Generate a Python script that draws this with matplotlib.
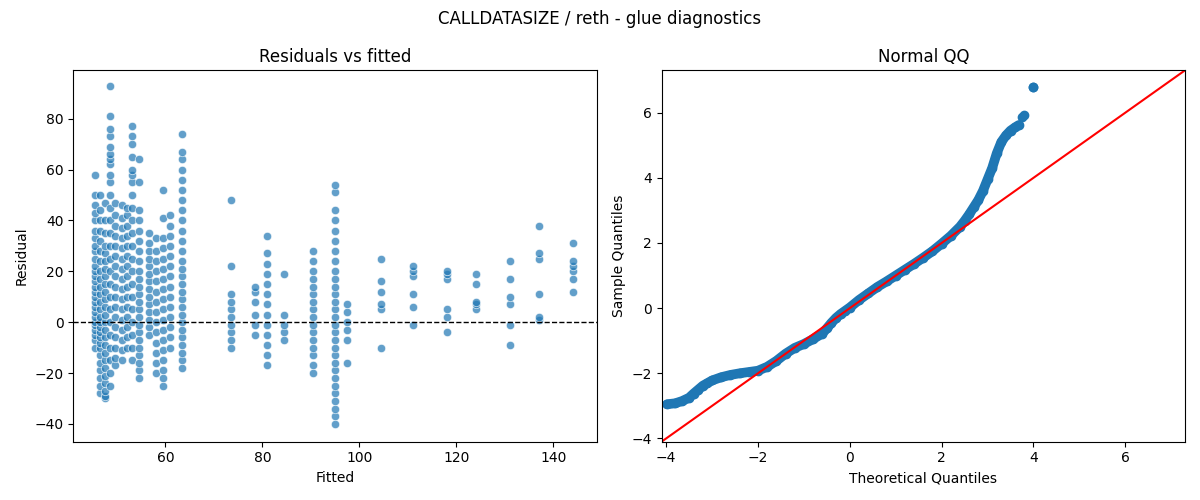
import matplotlib
matplotlib.use("Agg")
import matplotlib.pyplot as plt

# Residuals vs fitted: residuals grouped by fitted value
fitted_levels = [45.5, 46.5, 47.5, 48.5, 49.5, 51, 52, 53, 54.5, 56.5, 58, 59.5, 61, 63.5,
                 73.5, 78.5, 81, 84.5, 90.5, 95, 97.5, 104.5, 111, 118, 124, 131, 137, 144]
residual_groups = [
    [-10, -7, -5, -3, -1, 0, 2, 4, 6, 8, 10, 12, 14, 16, 18, 20, 22, 25, 28, 30, 33, 36, 40, 43, 46, 50, 58],
    [-28, -25, -22, -19, -16, -13, -10, -8, -6, -4, -2, 0, 2, 5, 8, 11, 14, 17, 20, 24, 28, 32, 36, 40, 44, 50],
    [-30, -29, -27, -24, -21, -18, -15, -12, -9, -6, -3, 0, 3, 6, 9, 12, 15, 18, 21, 24, 27, 30, 35, 40, 47],
    [-25, -20, -15, -10, -5, 0, 5, 10, 15, 20, 25, 30, 35, 40, 45, 50, 55, 58, 62, 64, 66, 69, 73, 76, 81, 93],
    [-17, -14, -10, -6, -2, 2, 6, 10, 14, 18, 22, 26, 30, 34, 38, 42, 47],
    [-15, -11, -7, -3, 1, 5, 9, 13, 17, 21, 25, 29, 33, 37, 41, 46],
    [-10, -6, -2, 2, 6, 10, 14, 18, 22, 26, 30, 34, 38, 42, 45],
    [-15, -10, -5, 0, 5, 10, 15, 20, 25, 30, 35, 40, 45, 50, 55, 58, 60, 65, 70, 73, 77],
    [-22, -19, -16, -13, -10, -7, -4, -1, 2, 5, 8, 11, 14, 17, 20, 24, 28, 32, 36, 40, 44, 55, 64],
    [-5, -2, 1, 4, 7, 10, 13, 16, 19, 22, 25, 28, 31, 35],
    [-20, -16, -12, -8, -4, 0, 4, 8, 12, 16, 20, 24, 28, 33],
    [-25, -22, -19, -15, -11, -7, -3, 1, 5, 9, 13, 17, 21, 25, 29, 33, 41, 52],
    [-10, -6, -2, 2, 6, 10, 14, 18, 22, 26, 30, 34, 38, 42],
    [-18, -15, -12, -9, -6, -3, 0, 3, 6, 9, 12, 15, 18, 21, 24, 28, 32, 36, 40, 44, 48, 52, 56, 60, 64, 67, 74],
    [-10, -7, -4, -1, 2, 5, 8, 11, 22, 48],
    [-5, -1, 3, 8, 12, 14],
    [-17, -13, -9, -5, -1, 3, 7, 11, 15, 19, 23, 27, 34],
    [-7, -4, -1, 3, 19],
    [-20, -17, -13, -10, -7, -4, -1, 2, 5, 8, 11, 14, 17, 20, 24, 28],
    [-40, -37, -34, -31, -28, -25, -22, -19, -16, -13, -10, -7, -4, -1, 2, 5, 8, 11, 14, 17, 20, 24, 28, 32, 36, 40, 44, 51, 54],
    [-16, -7, -3, 0, 4, 7],
    [-10, 5, 7, 12, 16, 25],
    [-1, 6, 11, 18, 20, 22],
    [-4, 2, 5, 17, 19, 20],
    [5, 7, 8, 15, 19],
    [-9, -1, 7, 10, 17, 24],
    [1, 2, 11, 25, 27, 38],
    [12, 17, 20, 22, 24, 31],
]

# Normal QQ (continuous body) and the isolated top points
theoretical_q = [-3.98, -3.8, -3.65, -3.5, -3.4, -3.3, -3.2, -3.1, -3.0, -2.8, -2.6, -2.4, -2.2, -2.0,
                 -1.8, -1.6, -1.4, -1.2, -1.0, -0.8, -0.6, -0.5, -0.4, -0.3, -0.2, -0.1, 0.0, 0.2,
                 0.4, 0.6, 0.8, 1.0, 1.2, 1.4, 1.6, 1.8, 2.0, 2.2, 2.4, 2.5, 2.6, 2.7, 2.8, 2.9,
                 3.0, 3.1, 3.2, 3.3, 3.4, 3.5, 3.6, 3.68]
sample_q = [-2.95, -2.92, -2.85, -2.75, -2.62, -2.5, -2.38, -2.3, -2.22, -2.12, -2.05, -2.0, -1.96, -1.92,
            -1.8, -1.62, -1.4, -1.22, -1.1, -0.95, -0.78, -0.62, -0.45, -0.3, -0.18, -0.08, 0.02, 0.25,
            0.45, 0.65, 0.82, 1.0, 1.18, 1.36, 1.55, 1.75, 1.98, 2.22, 2.5, 2.68, 2.88, 3.1, 3.32, 3.6,
            3.95, 4.3, 4.75, 5.1, 5.3, 5.45, 5.55, 5.62]
theoretical_tail = [3.75, 3.8, 3.98, 4.0]
sample_tail = [5.88, 5.92, 6.78, 6.8]

fig, (ax1, ax2) = plt.subplots(1, 2, figsize=(12, 5), dpi=100)
fig.suptitle("CALLDATASIZE / reth - glue diagnostics")

xs, ys = [], []
for f, g in zip(fitted_levels, residual_groups):
    xs += [f] * len(g)
    ys += g
ax1.scatter(xs, ys, s=36, color="#1f77b4", alpha=0.7, edgecolor="white", linewidth=0.6)
ax1.axhline(0, color="black", linestyle="--", linewidth=1)
ax1.set_xlim(41, 149)
ax1.set_ylim(-47, 99)
ax1.set_xlabel("Fitted")
ax1.set_ylabel("Residual")
ax1.set_title("Residuals vs fitted")

ax2.plot(theoretical_q, sample_q, color="#1f77b4", linewidth=7, solid_capstyle="round")
ax2.plot(theoretical_q, sample_q, "o", color="#1f77b4", markersize=6)
ax2.plot(theoretical_tail, sample_tail, "o", color="#1f77b4", markersize=6)
ax2.set_xlim(-4.1, 7.3)
ax2.set_ylim(-4.1, 7.3)
ax2.plot([-4.1, 7.3], [-4.1, 7.3], color="red")
ax2.set_xlabel("Theoretical Quantiles")
ax2.set_ylabel("Sample Quantiles")
ax2.set_title("Normal QQ")

fig.tight_layout()
fig.savefig("out.png")
